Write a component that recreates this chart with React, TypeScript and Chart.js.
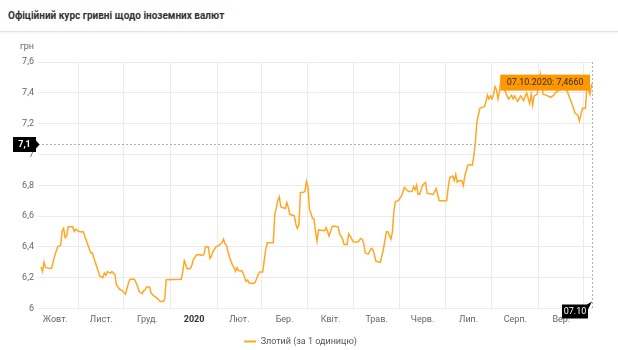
import React, { useEffect, useRef } from 'react';
import { Chart, registerables } from 'chart.js';

Chart.register(...registerables);

const TITLE = 'Офіційний курс гривні щодо іноземних валют';
const SERIES_LABEL = 'Злотий (за 1 одиницю)';
const Y_UNIT = 'грн';
const START_DATE = Date.UTC(2019, 9, 1); // day 0 = 01.10.2019
const MONTH_LABELS = ['Жовт.', 'Лист.', 'Груд.', '2020', 'Лют.', 'Бер.', 'Квіт.', 'Трав.', 'Черв.', 'Лип.', 'Серп.', 'Вер.'];
const MONTH_START_DAYS = [0, 31, 61, 92, 123, 152, 183, 213, 244, 274, 305, 336, 366];
const Y_TICKS = [6, 6.2, 6.4, 6.6, 6.8, 7, 7.2, 7.4, 7.6];
const X_MIN = 4;
const X_MAX = 372;
const CROSSHAIR_VALUE = 7.065;

const DAYS = [
  6, 7, 8, 9, 13, 15, 17, 19, 20, 21, 22, 23, 24, 27, 28, 29, 31, 33, 34, 35, 37, 39, 40, 41, 43, 45, 47, 48, 49, 50,
  52, 53, 55, 56, 58, 60, 62, 64, 65, 68, 70, 71, 73, 74, 75, 76, 78, 79, 80, 81, 83, 85, 87, 88, 89, 99,
  100, 101, 103, 105, 106, 107, 109, 110, 113, 114, 115, 117, 118, 119, 120, 122, 124, 126, 127, 128, 129, 130, 131, 133,
  134, 135, 136, 137, 139, 140, 142, 143, 144, 147, 148, 150, 151, 153, 155, 156, 160, 161, 163, 164, 165, 166, 168, 169,
  170, 171, 173, 174, 175, 176, 177, 178, 180, 181, 182, 183, 184, 186, 187, 188, 189, 190, 194, 195, 196, 197, 199, 200,
  203, 204, 206, 207, 209, 210, 211, 213, 216, 218, 219, 220, 221, 223, 225, 226, 227, 228, 231, 233, 235, 236, 238, 239,
  240, 241, 243, 245, 247, 249, 250, 252, 253, 254, 255, 256, 257, 259, 261, 262, 264, 266, 268, 269, 270, 273, 275, 276,
  277, 279, 280, 281, 282, 283, 285, 286, 287, 289, 290, 292, 293, 294, 295, 297, 300, 301, 302, 303, 304, 305, 306, 307,
  308, 309, 310, 311, 312, 313, 315, 316, 318, 319, 320, 322, 323, 324, 326, 328, 330, 331, 332, 333, 335, 337, 339, 341,
  342, 344, 346, 347, 350, 353, 355, 356, 358, 360, 362, 363, 365, 367, 368, 369, 370, 371, 372,
];

const RATES = [
  6.27, 6.24, 6.30, 6.265, 6.26, 6.34, 6.40, 6.41, 6.50, 6.52, 6.46, 6.47, 6.53, 6.53, 6.50, 6.515, 6.50, 6.496, 6.50, 6.47, 6.416, 6.36, 6.36, 6.33, 6.27, 6.21, 6.20, 6.23, 6.215, 6.24,
  6.23, 6.24, 6.22, 6.155, 6.126, 6.115, 6.093, 6.165, 6.19, 6.19, 6.144, 6.11, 6.096, 6.115, 6.12, 6.14, 6.14, 6.10, 6.09, 6.08, 6.067, 6.046, 6.046, 6.06, 6.187, 6.19,
  6.24, 6.31, 6.257, 6.26, 6.28, 6.318, 6.346, 6.35, 6.345, 6.35, 6.40, 6.40, 6.325, 6.34, 6.37, 6.40, 6.41, 6.427, 6.45, 6.42, 6.41, 6.368, 6.333, 6.28,
  6.265, 6.24, 6.265, 6.245, 6.245, 6.23, 6.176, 6.185, 6.165, 6.163, 6.17, 6.22, 6.237, 6.237, 6.383, 6.427, 6.427, 6.61, 6.70, 6.725, 6.66, 6.655, 6.65, 6.688,
  6.655, 6.61, 6.605, 6.60, 6.547, 6.52, 6.547, 6.753, 6.755, 6.76, 6.825, 6.79, 6.645, 6.586, 6.58, 6.50, 6.438, 6.51, 6.505, 6.525, 6.50, 6.47, 6.53, 6.536,
  6.53, 6.486, 6.45, 6.416, 6.416, 6.485, 6.47, 6.433, 6.43, 6.455, 6.45, 6.42, 6.36, 6.353, 6.39, 6.383, 6.35, 6.307, 6.30, 6.383, 6.498, 6.498, 6.45, 6.498,
  6.634, 6.694, 6.70, 6.73, 6.786, 6.765, 6.76, 6.76, 6.79, 6.77, 6.80, 6.742, 6.742, 6.80, 6.818, 6.747, 6.745, 6.74, 6.78, 6.74, 6.70, 6.70, 6.70, 6.786,
  6.85, 6.86, 6.83, 6.87, 6.82, 6.83, 6.83, 6.797, 6.86, 6.93, 6.935, 6.93, 6.99, 7.08, 7.21, 7.30, 7.31, 7.34, 7.385, 7.36, 7.38, 7.36, 7.385, 7.44,
  7.42, 7.36, 7.41, 7.483, 7.46, 7.43, 7.38, 7.36, 7.385, 7.36, 7.38, 7.345, 7.36, 7.38, 7.35, 7.40, 7.33, 7.39, 7.32, 7.38, 7.39, 7.52, 7.39, 7.385,
  7.38, 7.37, 7.385, 7.40, 7.42, 7.43, 7.41, 7.38, 7.33, 7.27, 7.254, 7.217, 7.30, 7.30, 7.44, 7.42, 7.39, 7.45, 7.466,
];

const FONT = 'Roboto, "Noto Sans", Arial, sans-serif';
const FS = 9;
const LINE_COLOR = '#ffa726';
const TIP_COLOR = '#ff9800';
const GRID_COLOR = '#ebebeb';
const TEXT_COLOR = '#666666';

const fmtNum = (v: number) => String(Number(v.toFixed(1))).replace('.', ',');
const dayToDate = (d: number) => {
  const dt = new Date(START_DATE + d * 86400000);
  const dd = String(dt.getUTCDate()).padStart(2, '0');
  const mm = String(dt.getUTCMonth() + 1).padStart(2, '0');
  return { full: `${dd}.${mm}.${dt.getUTCFullYear()}`, short: `${dd}.${mm}` };
};

export default function App() {
  const ref = useRef<HTMLCanvasElement>(null);

  useEffect(() => {
    document.body.style.margin = '0';
    document.body.style.overflow = 'hidden';
    const canvas = ref.current;
    if (!canvas) return;

    const points = DAYS.map((d, i) => ({ x: d, y: RATES[i] }));
    const gridTicks = MONTH_START_DAYS.filter((d) => d > X_MIN && d <= X_MAX);
    const labelTicks = MONTH_LABELS.map((_, i) => (MONTH_START_DAYS[i] + MONTH_START_DAYS[i + 1]) / 2);

    const overlay = {
      id: 'overlay',
      afterDraw(chart: any) {
        const { ctx, chartArea } = chart;
        const xs = chart.scales.x;
        const ys = chart.scales.y;
        const lastDay = DAYS[DAYS.length - 1];
        const lastVal = RATES[RATES.length - 1];
        const px = xs.getPixelForValue(lastDay);
        const py = ys.getPixelForValue(lastVal);
        const cy = Math.round(ys.getPixelForValue(CROSSHAIR_VALUE)) + 0.5;
        ctx.save();

        // unit label
        ctx.font = `${FS}px ${FONT}`;
        ctx.fillStyle = TEXT_COLOR;
        ctx.textAlign = 'right';
        ctx.textBaseline = 'middle';
        ctx.fillText(Y_UNIT, chartArea.left - 4, 9);

        // crosshair lines
        ctx.strokeStyle = '#b0b0b0';
        ctx.lineWidth = 1;
        ctx.setLineDash([2, 2]);
        ctx.beginPath();
        ctx.moveTo(chartArea.left, cy);
        ctx.lineTo(chartArea.right, cy);
        const vx = Math.round(px) - 0.5;
        ctx.moveTo(vx, chartArea.top);
        ctx.lineTo(vx, chartArea.bottom);
        ctx.stroke();
        ctx.setLineDash([]);

        // tooltip box
        const { full, short } = dayToDate(lastDay);
        const tipText = `${full}: ${lastVal.toFixed(4).replace('.', ',')}`;
        ctx.font = `${FS}px ${FONT}`;
        const tw = ctx.measureText(tipText).width;
        const bw = tw + 13;
        const bh = 16;
        const bx = px - 3 - bw;
        const by = py - bh / 2;
        ctx.fillStyle = TIP_COLOR;
        ctx.fillRect(bx, by, bw, bh);
        ctx.fillStyle = '#3a2a10';
        ctx.textAlign = 'center';
        ctx.textBaseline = 'middle';
        ctx.fillText(tipText, bx + bw / 2, by + bh / 2 + 0.5);

        // y crosshair badge
        ctx.fillStyle = '#000';
        const ybx = chartArea.left - 25;
        ctx.fillRect(ybx, cy - 7.5, 23, 15);
        ctx.beginPath();
        ctx.moveTo(chartArea.left - 2, cy - 4);
        ctx.lineTo(chartArea.left + 1.5, cy);
        ctx.lineTo(chartArea.left - 2, cy + 4);
        ctx.closePath();
        ctx.fill();
        ctx.fillStyle = '#fff';
        ctx.font = `bold ${FS}px ${FONT}`;
        ctx.fillText(fmtNum(CROSSHAIR_VALUE), ybx + 11.5, cy + 0.5);

        // x crosshair badge
        ctx.fillStyle = '#000';
        const xbw = 26;
        const xbx = px - 5 - xbw;
        const xby = chartArea.bottom - 4;
        ctx.fillRect(xbx, xby, xbw, 14);
        ctx.beginPath();
        ctx.moveTo(px - 6, xby);
        ctx.lineTo(px - 1, xby - 3);
        ctx.lineTo(px - 5, xby + 5);
        ctx.closePath();
        ctx.fill();
        ctx.fillStyle = '#fff';
        ctx.font = `${FS}px ${FONT}`;
        ctx.fillText(short, xbx + xbw / 2, xby + 7.5);

        ctx.restore();
      },
    };

    const chart = new Chart(canvas, {
      type: 'line',
      data: {
        datasets: [
          {
            label: SERIES_LABEL,
            data: points,
            borderColor: LINE_COLOR,
            backgroundColor: LINE_COLOR,
            borderWidth: 1.5,
            pointRadius: 0,
            tension: 0,
            fill: false,
          },
        ],
      },
      options: {
        animation: false,
        responsive: false,
        maintainAspectRatio: false,
        parsing: false,
        layout: { padding: { top: 24, right: 25, left: 8, bottom: 0 } },
        scales: {
          x: {
            type: 'linear',
            min: X_MIN,
            max: X_MAX,
            position: 'bottom',
            afterBuildTicks: (s: any) => {
              s.ticks = gridTicks.map((v) => ({ value: v }));
            },
            ticks: { display: false },
            grid: { color: GRID_COLOR, drawTicks: false },
            border: { display: false },
            afterFit: (s: any) => {
              s.height = 0;
            },
          },
          xl: {
            type: 'linear',
            min: X_MIN,
            max: X_MAX,
            position: 'bottom',
            afterBuildTicks: (s: any) => {
              s.ticks = labelTicks.map((v) => ({ value: v }));
            },
            ticks: {
              autoSkip: false,
              maxRotation: 0,
              padding: 6,
              color: (c: any) => (c.index === 3 ? '#333' : TEXT_COLOR),
              font: (c: any) => ({ family: FONT, size: FS, weight: c.index === 3 ? 'bold' : 'normal' }),
              callback: (_v: any, i: number) => MONTH_LABELS[i],
            },
            grid: { display: false, drawTicks: false },
            border: { display: false },
            afterFit: (s: any) => {
              s.height = 22;
            },
          },
          y: {
            type: 'linear',
            min: 6,
            max: 7.6,
            afterBuildTicks: (s: any) => {
              s.ticks = Y_TICKS.map((v) => ({ value: v }));
            },
            ticks: {
              padding: 4,
              color: TEXT_COLOR,
              font: { family: FONT, size: FS },
              callback: (v: any) => fmtNum(Number(v)),
            },
            grid: { color: GRID_COLOR, drawTicks: false },
            border: { display: false },
            afterFit: (s: any) => {
              s.width = 30;
            },
          },
        },
        plugins: {
          legend: {
            position: 'bottom',
            labels: {
              boxWidth: 12,
              boxHeight: 2,
              padding: 6.5,
              color: '#555',
              font: { family: FONT, size: FS },
              generateLabels: (c: any) =>
                Chart.defaults.plugins.legend.labels.generateLabels(c).map((l: any) => ({ ...l, lineWidth: 0, fillStyle: LINE_COLOR })),
            },
          },
          tooltip: { enabled: false },
        },
      },
      plugins: [overlay],
    } as any);

    return () => chart.destroy();
  }, []);

  return (
    <div style={{ position: 'relative', width: 618, height: 350, overflow: 'hidden', background: '#fff' }}>
      <div
        style={{
          position: 'absolute',
          left: 8,
          top: 8,
          fontFamily: FONT,
          fontSize: 10,
          fontWeight: 'bold',
          color: '#333',
          lineHeight: '16px',
          whiteSpace: 'nowrap',
        }}
      >
        {TITLE}
      </div>
      <div
        style={{
          position: 'absolute',
          left: 0,
          top: 31,
          width: 618,
          height: 1,
          background: '#e2e2e2',
          boxShadow: '0 1px 2px rgba(0,0,0,0.08)',
        }}
      />
      <canvas ref={ref} width={618} height={318} style={{ position: 'absolute', left: 0, top: 38, width: 618, height: 318 }} />
    </div>
  );
}
